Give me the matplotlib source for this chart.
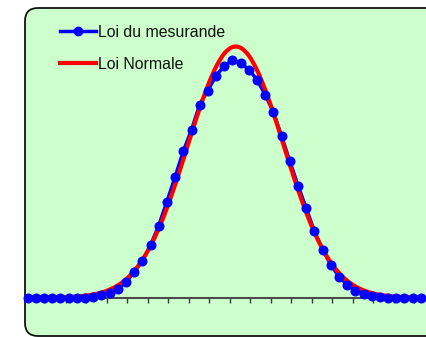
import numpy as np
import matplotlib
matplotlib.use("Agg")
import matplotlib.pyplot as plt
from matplotlib.patches import FancyBboxPatch, PathPatch
from matplotlib.path import Path
from matplotlib.lines import Line2D

plt.rcParams['font.family'] = ['Liberation Sans', 'DejaVu Sans']

# ---- data ----
x_index = list(range(49))
mesurande = [0, 0, 0, 0, 0, 0, 0, 0, 1.0, 3.0, 4.3, 8.5, 15.3, 25.3, 36.7, 52.4,
             72.0, 96.0, 120.7, 146.3, 167.7, 193.0, 207.0, 222.0, 231.5, 237.4,
             234.3, 228.0, 217.7, 202.7, 185.3, 161.3, 136.3, 112.0, 89.3, 66.3,
             48.0, 32.7, 21.0, 12.7, 7.0, 3.7, 1.3, 0.5, 0, 0, 0, 0, 0]
normale = [0, 0, 0, 0.1, 0.3, 0.5, 1.0, 1.8, 3.0, 4.9, 7.9, 12.1, 18.2, 26.5, 37.6,
           51.7, 69.0, 89.5, 112.8, 138.0, 163.9, 189.2, 212.0, 230.7, 243.9, 250.4,
           249.7, 241.8, 227.4, 207.7, 184.3, 158.7, 132.8, 107.9, 85.2, 65.3, 48.6,
           35.1, 24.7, 16.8, 11.1, 7.2, 4.5, 2.7, 1.6, 0.9, 0.5, 0.3, 0.1]
labels = ["Loi du mesurande", "Loi Normale"]

W, H = 427, 337
fig = plt.figure(figsize=(W / 100, H / 100), dpi=100)
fig.patch.set_facecolor('white')

# rounded green chart box (extends beyond right edge like the crop)
box = FancyBboxPatch((25, H - 336), 460, 328,
                     boxstyle="round,pad=0,rounding_size=13",
                     transform=None, facecolor='#CCFFCC', edgecolor='#111111',
                     linewidth=1.3, zorder=-5)
fig.patches.append(box)

ax = fig.add_axes([25 / W, 1 / H, 402 / W, 328 / H])
ax.set_zorder(1)
ax.patch.set_alpha(0)
ax.set_xlim(-0.33, 48.75)
ax.set_ylim(-38.5, 289.5)
for s in ['top', 'left', 'right']:
    ax.spines[s].set_visible(False)
ax.spines['bottom'].set_position(('data', 0))
ax.spines['bottom'].set_color('#3a3a3a')
ax.spines['bottom'].set_linewidth(1.3)
ax.set_xticks(np.arange(-0.33, 48.8, 2.5))
ax.tick_params(axis='x', direction='out', length=3.5, width=1, color='#3a3a3a',
               labelbottom=False)
ax.set_yticks([])

# blue series line
ax.plot(x_index, mesurande, color='#0000FF', lw=2.5, zorder=3, clip_on=False)


# red smooth line (Bezier through the read points, like a smoothed spreadsheet line)
def smooth_path(xs, ys):
    xs = np.asarray(xs, float)
    ys = np.asarray(ys, float)
    verts = [(xs[0], ys[0])]
    codes = [Path.MOVETO]
    n = len(xs)
    for i in range(n - 1):
        x0, y0 = (xs[i - 1], ys[i - 1]) if i > 0 else (xs[i], ys[i])
        x1, y1 = xs[i], ys[i]
        x2, y2 = xs[i + 1], ys[i + 1]
        x3, y3 = (xs[i + 2], ys[i + 2]) if i + 2 < n else (xs[i + 1], ys[i + 1])
        c1 = (x1 + (x2 - x0) / 6, y1 + (y2 - y0) / 6)
        c2 = (x2 - (x3 - x1) / 6, y2 - (y3 - y1) / 6)
        verts += [c1, c2, (x2, y2)]
        codes += [Path.CURVE4] * 3
    return Path(verts, codes)


red = PathPatch(smooth_path(x_index, normale), facecolor='none', edgecolor='#FF0000',
                lw=3.0, zorder=4, capstyle='round', joinstyle='round')
ax.add_patch(red)

# blue markers on top
ax.plot(x_index, mesurande, linestyle='none', marker='o', markersize=6.2,
        color='#0000FF', zorder=5, clip_on=False)

# legend drawn in figure pixel coordinates
def fy(py):
    return 1 - py / H

fig.add_artist(Line2D([60 / W, 96 / W], [fy(31), fy(31)], transform=fig.transFigure,
                      color='#0000FF', lw=2.5))
fig.add_artist(Line2D([78 / W], [fy(31)], transform=fig.transFigure,
                      color='#0000FF', marker='o', markersize=6.0, linestyle='none'))
fig.add_artist(Line2D([60 / W, 96 / W], [fy(62.7), fy(62.7)], transform=fig.transFigure,
                      color='#FF0000', lw=3.0))
fig.text(98 / W, fy(36.7), labels[0], fontsize=11.4, color='#111111', va='baseline', ha='left')
fig.text(98 / W, fy(68.7), labels[1], fontsize=11.4, color='#111111', va='baseline', ha='left')

fig.savefig('out.png', dpi=100, facecolor='white')
